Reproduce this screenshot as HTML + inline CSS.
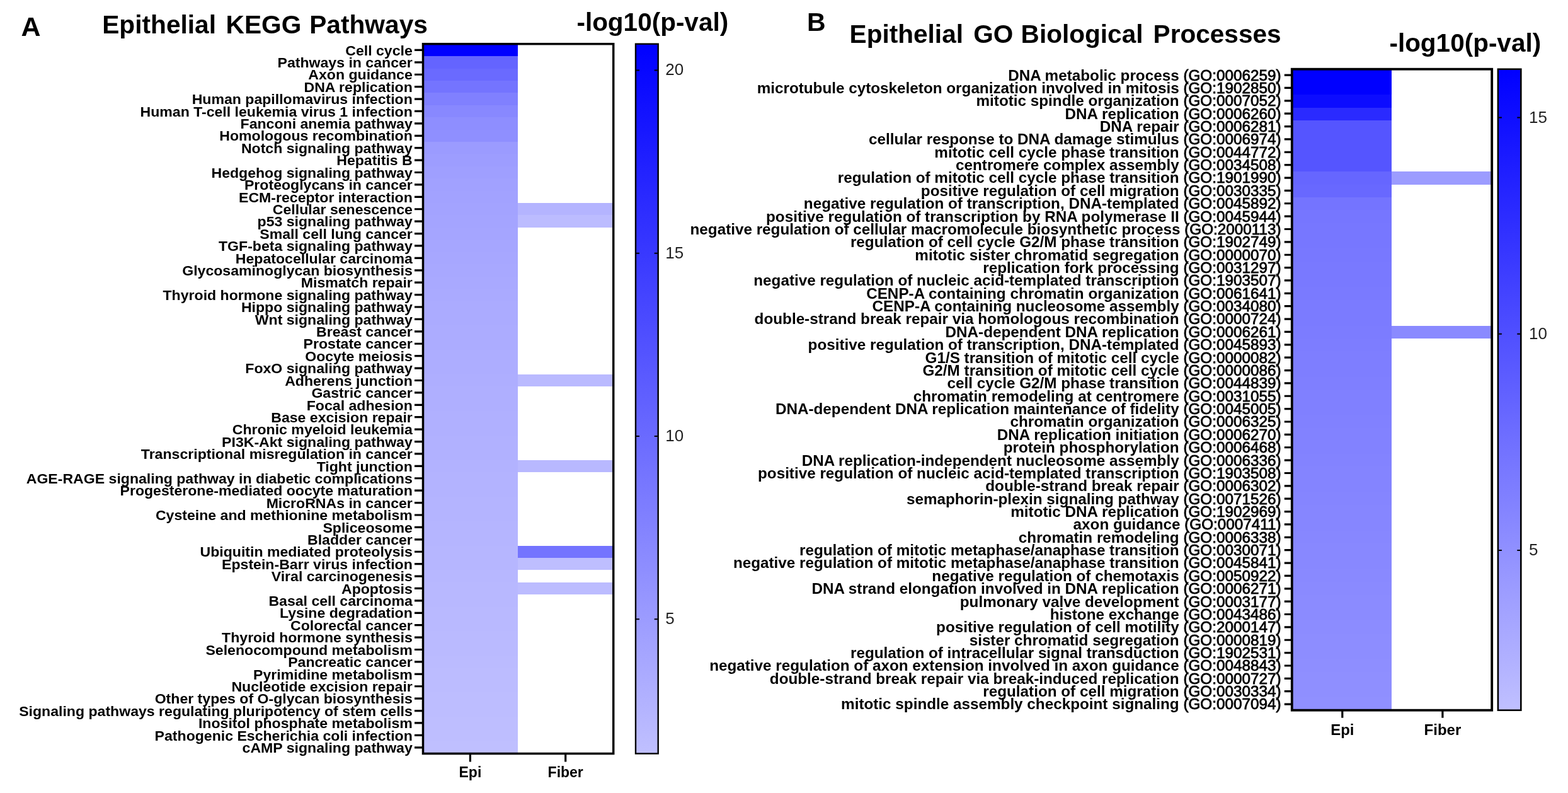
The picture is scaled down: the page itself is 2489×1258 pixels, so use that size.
<!DOCTYPE html><html><head><meta charset="utf-8"><style>html,body{margin:0;padding:0;background:#fff;}svg{display:block}text{font-family:"Liberation Sans",Arial,sans-serif;}</style></head><body>
<svg width="2489" height="1258" viewBox="0 0 2489 1258">
<rect width="2489" height="1258" fill="#fff"/>
<defs><linearGradient id="gA" x1="0" y1="1" x2="0" y2="0"><stop offset="0" stop-color="rgb(192,192,255)"/><stop offset="1" stop-color="rgb(0,0,255)"/></linearGradient></defs>
<rect x="671.50" y="69.70" width="150.20" height="19.71" fill="rgb(0,0,255)" shape-rendering="crispEdges"/>
<rect x="671.50" y="89.11" width="150.20" height="19.71" fill="rgb(100,100,255)" shape-rendering="crispEdges"/>
<rect x="671.50" y="108.52" width="150.20" height="19.71" fill="rgb(106,106,255)" shape-rendering="crispEdges"/>
<rect x="671.50" y="127.93" width="150.20" height="19.71" fill="rgb(116,116,255)" shape-rendering="crispEdges"/>
<rect x="671.50" y="147.34" width="150.20" height="19.71" fill="rgb(128,128,255)" shape-rendering="crispEdges"/>
<rect x="671.50" y="166.75" width="150.20" height="19.71" fill="rgb(136,136,255)" shape-rendering="crispEdges"/>
<rect x="671.50" y="186.16" width="150.20" height="19.71" fill="rgb(142,142,255)" shape-rendering="crispEdges"/>
<rect x="671.50" y="205.57" width="150.20" height="19.71" fill="rgb(143,143,255)" shape-rendering="crispEdges"/>
<rect x="671.50" y="224.98" width="150.20" height="19.71" fill="rgb(155,155,255)" shape-rendering="crispEdges"/>
<rect x="671.50" y="244.39" width="150.20" height="19.71" fill="rgb(157,157,255)" shape-rendering="crispEdges"/>
<rect x="671.50" y="263.80" width="150.20" height="19.71" fill="rgb(159,159,255)" shape-rendering="crispEdges"/>
<rect x="671.50" y="283.21" width="150.20" height="19.71" fill="rgb(161,161,255)" shape-rendering="crispEdges"/>
<rect x="671.50" y="302.62" width="150.20" height="19.71" fill="rgb(162,162,255)" shape-rendering="crispEdges"/>
<rect x="671.50" y="322.03" width="150.20" height="19.71" fill="rgb(163,163,255)" shape-rendering="crispEdges"/>
<rect x="671.50" y="341.44" width="150.20" height="19.71" fill="rgb(164,164,255)" shape-rendering="crispEdges"/>
<rect x="671.50" y="360.86" width="150.20" height="19.71" fill="rgb(165,165,255)" shape-rendering="crispEdges"/>
<rect x="671.50" y="380.27" width="150.20" height="19.71" fill="rgb(166,166,255)" shape-rendering="crispEdges"/>
<rect x="671.50" y="399.68" width="150.20" height="19.71" fill="rgb(167,167,255)" shape-rendering="crispEdges"/>
<rect x="671.50" y="419.09" width="150.20" height="19.71" fill="rgb(168,168,255)" shape-rendering="crispEdges"/>
<rect x="671.50" y="438.50" width="150.20" height="19.71" fill="rgb(169,169,255)" shape-rendering="crispEdges"/>
<rect x="671.50" y="457.91" width="150.20" height="19.71" fill="rgb(170,170,255)" shape-rendering="crispEdges"/>
<rect x="671.50" y="477.32" width="150.20" height="19.71" fill="rgb(171,171,255)" shape-rendering="crispEdges"/>
<rect x="671.50" y="496.73" width="150.20" height="19.71" fill="rgb(171,171,255)" shape-rendering="crispEdges"/>
<rect x="671.50" y="516.14" width="150.20" height="19.71" fill="rgb(172,172,255)" shape-rendering="crispEdges"/>
<rect x="671.50" y="535.55" width="150.20" height="19.71" fill="rgb(172,172,255)" shape-rendering="crispEdges"/>
<rect x="671.50" y="554.96" width="150.20" height="19.71" fill="rgb(173,173,255)" shape-rendering="crispEdges"/>
<rect x="671.50" y="574.37" width="150.20" height="19.71" fill="rgb(173,173,255)" shape-rendering="crispEdges"/>
<rect x="671.50" y="593.78" width="150.20" height="19.71" fill="rgb(174,174,255)" shape-rendering="crispEdges"/>
<rect x="671.50" y="613.19" width="150.20" height="19.71" fill="rgb(175,175,255)" shape-rendering="crispEdges"/>
<rect x="671.50" y="632.60" width="150.20" height="19.71" fill="rgb(175,175,255)" shape-rendering="crispEdges"/>
<rect x="671.50" y="652.01" width="150.20" height="19.71" fill="rgb(176,176,255)" shape-rendering="crispEdges"/>
<rect x="671.50" y="671.42" width="150.20" height="19.71" fill="rgb(176,176,255)" shape-rendering="crispEdges"/>
<rect x="671.50" y="690.83" width="150.20" height="19.71" fill="rgb(177,177,255)" shape-rendering="crispEdges"/>
<rect x="671.50" y="710.24" width="150.20" height="19.71" fill="rgb(177,177,255)" shape-rendering="crispEdges"/>
<rect x="671.50" y="729.65" width="150.20" height="19.71" fill="rgb(178,178,255)" shape-rendering="crispEdges"/>
<rect x="671.50" y="749.06" width="150.20" height="19.71" fill="rgb(179,179,255)" shape-rendering="crispEdges"/>
<rect x="671.50" y="768.47" width="150.20" height="19.71" fill="rgb(179,179,255)" shape-rendering="crispEdges"/>
<rect x="671.50" y="787.88" width="150.20" height="19.71" fill="rgb(180,180,255)" shape-rendering="crispEdges"/>
<rect x="671.50" y="807.29" width="150.20" height="19.71" fill="rgb(180,180,255)" shape-rendering="crispEdges"/>
<rect x="671.50" y="826.70" width="150.20" height="19.71" fill="rgb(181,181,255)" shape-rendering="crispEdges"/>
<rect x="671.50" y="846.11" width="150.20" height="19.71" fill="rgb(181,181,255)" shape-rendering="crispEdges"/>
<rect x="671.50" y="865.52" width="150.20" height="19.71" fill="rgb(182,182,255)" shape-rendering="crispEdges"/>
<rect x="671.50" y="884.93" width="150.20" height="19.71" fill="rgb(182,182,255)" shape-rendering="crispEdges"/>
<rect x="671.50" y="904.34" width="150.20" height="19.71" fill="rgb(183,183,255)" shape-rendering="crispEdges"/>
<rect x="671.50" y="923.76" width="150.20" height="19.71" fill="rgb(184,184,255)" shape-rendering="crispEdges"/>
<rect x="671.50" y="943.17" width="150.20" height="19.71" fill="rgb(184,184,255)" shape-rendering="crispEdges"/>
<rect x="671.50" y="962.58" width="150.20" height="19.71" fill="rgb(185,185,255)" shape-rendering="crispEdges"/>
<rect x="671.50" y="981.99" width="150.20" height="19.71" fill="rgb(185,185,255)" shape-rendering="crispEdges"/>
<rect x="671.50" y="1001.40" width="150.20" height="19.71" fill="rgb(186,186,255)" shape-rendering="crispEdges"/>
<rect x="671.50" y="1020.81" width="150.20" height="19.71" fill="rgb(186,186,255)" shape-rendering="crispEdges"/>
<rect x="671.50" y="1040.22" width="150.20" height="19.71" fill="rgb(187,187,255)" shape-rendering="crispEdges"/>
<rect x="671.50" y="1059.63" width="150.20" height="19.71" fill="rgb(188,188,255)" shape-rendering="crispEdges"/>
<rect x="671.50" y="1079.04" width="150.20" height="19.71" fill="rgb(188,188,255)" shape-rendering="crispEdges"/>
<rect x="671.50" y="1098.45" width="150.20" height="19.71" fill="rgb(189,189,255)" shape-rendering="crispEdges"/>
<rect x="671.50" y="1117.86" width="150.20" height="19.71" fill="rgb(189,189,255)" shape-rendering="crispEdges"/>
<rect x="671.50" y="1137.27" width="150.20" height="19.71" fill="rgb(190,190,255)" shape-rendering="crispEdges"/>
<rect x="671.50" y="1156.68" width="150.20" height="19.71" fill="rgb(190,190,255)" shape-rendering="crispEdges"/>
<rect x="671.50" y="1176.09" width="150.20" height="19.71" fill="rgb(191,191,255)" shape-rendering="crispEdges"/>
<rect x="821.70" y="322.03" width="152.00" height="19.41" fill="rgb(180,180,255)" shape-rendering="crispEdges"/>
<rect x="821.70" y="341.44" width="152.00" height="19.41" fill="rgb(188,188,255)" shape-rendering="crispEdges"/>
<rect x="821.70" y="593.78" width="152.00" height="19.41" fill="rgb(186,186,255)" shape-rendering="crispEdges"/>
<rect x="821.70" y="729.65" width="152.00" height="19.41" fill="rgb(184,184,255)" shape-rendering="crispEdges"/>
<rect x="821.70" y="865.52" width="152.00" height="19.41" fill="rgb(116,116,255)" shape-rendering="crispEdges"/>
<rect x="821.70" y="884.93" width="152.00" height="19.41" fill="rgb(190,190,255)" shape-rendering="crispEdges"/>
<rect x="821.70" y="923.76" width="152.00" height="19.41" fill="rgb(188,188,255)" shape-rendering="crispEdges"/>
<rect x="671.50" y="69.70" width="302.20" height="1125.80" fill="none" stroke="#000" stroke-width="3.50"/>
<path d="M658.00 79.41H671.50M658.00 98.82H671.50M658.00 118.23H671.50M658.00 137.64H671.50M658.00 157.05H671.50M658.00 176.46H671.50M658.00 195.87H671.50M658.00 215.28H671.50M658.00 234.69H671.50M658.00 254.10H671.50M658.00 273.51H671.50M658.00 292.92H671.50M658.00 312.33H671.50M658.00 331.74H671.50M658.00 351.15H671.50M658.00 370.56H671.50M658.00 389.97H671.50M658.00 409.38H671.50M658.00 428.79H671.50M658.00 448.20H671.50M658.00 467.61H671.50M658.00 487.02H671.50M658.00 506.43H671.50M658.00 525.84H671.50M658.00 545.25H671.50M658.00 564.66H671.50M658.00 584.07H671.50M658.00 603.48H671.50M658.00 622.89H671.50M658.00 642.31H671.50M658.00 661.72H671.50M658.00 681.13H671.50M658.00 700.54H671.50M658.00 719.95H671.50M658.00 739.36H671.50M658.00 758.77H671.50M658.00 778.18H671.50M658.00 797.59H671.50M658.00 817.00H671.50M658.00 836.41H671.50M658.00 855.82H671.50M658.00 875.23H671.50M658.00 894.64H671.50M658.00 914.05H671.50M658.00 933.46H671.50M658.00 952.87H671.50M658.00 972.28H671.50M658.00 991.69H671.50M658.00 1011.10H671.50M658.00 1030.51H671.50M658.00 1049.92H671.50M658.00 1069.33H671.50M658.00 1088.74H671.50M658.00 1108.15H671.50M658.00 1127.56H671.50M658.00 1146.97H671.50M658.00 1166.38H671.50M658.00 1185.79H671.50" stroke="#000" stroke-width="3.20" fill="none"/>
<g font-weight="bold" font-size="23.10" text-anchor="end" fill="#000"><text transform="translate(654.80 87.61) scale(1 0.960)">Cell cycle</text><text transform="translate(654.80 107.02) scale(1 0.960)">Pathways in cancer</text><text transform="translate(654.80 126.43) scale(1 0.960)">Axon guidance</text><text transform="translate(654.80 145.84) scale(1 0.960)">DNA replication</text><text transform="translate(654.80 165.25) scale(1 0.960)">Human papillomavirus infection</text><text transform="translate(654.80 184.66) scale(1 0.960)">Human T-cell leukemia virus 1 infection</text><text transform="translate(654.80 204.07) scale(1 0.960)">Fanconi anemia pathway</text><text transform="translate(654.80 223.48) scale(1 0.960)">Homologous recombination</text><text transform="translate(654.80 242.89) scale(1 0.960)">Notch signaling pathway</text><text transform="translate(654.80 262.30) scale(1 0.960)">Hepatitis B</text><text transform="translate(654.80 281.71) scale(1 0.960)">Hedgehog signaling pathway</text><text transform="translate(654.80 301.12) scale(1 0.960)">Proteoglycans in cancer</text><text transform="translate(654.80 320.53) scale(1 0.960)">ECM-receptor interaction</text><text transform="translate(654.80 339.94) scale(1 0.960)">Cellular senescence</text><text transform="translate(654.80 359.35) scale(1 0.960)">p53 signaling pathway</text><text transform="translate(654.80 378.76) scale(1 0.960)">Small cell lung cancer</text><text transform="translate(654.80 398.17) scale(1 0.960)">TGF-beta signaling pathway</text><text transform="translate(654.80 417.58) scale(1 0.960)">Hepatocellular carcinoma</text><text transform="translate(654.80 436.99) scale(1 0.960)">Glycosaminoglycan biosynthesis</text><text transform="translate(654.80 456.40) scale(1 0.960)">Mismatch repair</text><text transform="translate(654.80 475.81) scale(1 0.960)">Thyroid hormone signaling pathway</text><text transform="translate(654.80 495.22) scale(1 0.960)">Hippo signaling pathway</text><text transform="translate(654.80 514.63) scale(1 0.960)">Wnt signaling pathway</text><text transform="translate(654.80 534.04) scale(1 0.960)">Breast cancer</text><text transform="translate(654.80 553.45) scale(1 0.960)">Prostate cancer</text><text transform="translate(654.80 572.86) scale(1 0.960)">Oocyte meiosis</text><text transform="translate(654.80 592.27) scale(1 0.960)">FoxO signaling pathway</text><text transform="translate(654.80 611.68) scale(1 0.960)">Adherens junction</text><text transform="translate(654.80 631.09) scale(1 0.960)">Gastric cancer</text><text transform="translate(654.80 650.51) scale(1 0.960)">Focal adhesion</text><text transform="translate(654.80 669.92) scale(1 0.960)">Base excision repair</text><text transform="translate(654.80 689.33) scale(1 0.960)">Chronic myeloid leukemia</text><text transform="translate(654.80 708.74) scale(1 0.960)">PI3K-Akt signaling pathway</text><text transform="translate(654.80 728.15) scale(1 0.960)">Transcriptional misregulation in cancer</text><text transform="translate(654.80 747.56) scale(1 0.960)">Tight junction</text><text transform="translate(654.80 766.97) scale(1 0.960)">AGE-RAGE signaling pathway in diabetic complications</text><text transform="translate(654.80 786.38) scale(1 0.960)">Progesterone-mediated oocyte maturation</text><text transform="translate(654.80 805.79) scale(1 0.960)">MicroRNAs in cancer</text><text transform="translate(654.80 825.20) scale(1 0.960)">Cysteine and methionine metabolism</text><text transform="translate(654.80 844.61) scale(1 0.960)">Spliceosome</text><text transform="translate(654.80 864.02) scale(1 0.960)">Bladder cancer</text><text transform="translate(654.80 883.43) scale(1 0.960)">Ubiquitin mediated proteolysis</text><text transform="translate(654.80 902.84) scale(1 0.960)">Epstein-Barr virus infection</text><text transform="translate(654.80 922.25) scale(1 0.960)">Viral carcinogenesis</text><text transform="translate(654.80 941.66) scale(1 0.960)">Apoptosis</text><text transform="translate(654.80 961.07) scale(1 0.960)">Basal cell carcinoma</text><text transform="translate(654.80 980.48) scale(1 0.960)">Lysine degradation</text><text transform="translate(654.80 999.89) scale(1 0.960)">Colorectal cancer</text><text transform="translate(654.80 1019.30) scale(1 0.960)">Thyroid hormone synthesis</text><text transform="translate(654.80 1038.71) scale(1 0.960)">Selenocompound metabolism</text><text transform="translate(654.80 1058.12) scale(1 0.960)">Pancreatic cancer</text><text transform="translate(654.80 1077.53) scale(1 0.960)">Pyrimidine metabolism</text><text transform="translate(654.80 1096.94) scale(1 0.960)">Nucleotide excision repair</text><text transform="translate(654.80 1116.35) scale(1 0.960)">Other types of O-glycan biosynthesis</text><text transform="translate(654.80 1135.76) scale(1 0.960)">Signaling pathways regulating pluripotency of stem cells</text><text transform="translate(654.80 1155.17) scale(1 0.960)">Inositol phosphate metabolism</text><text transform="translate(654.80 1174.58) scale(1 0.960)">Pathogenic Escherichia coli infection</text><text transform="translate(654.80 1193.99) scale(1 0.960)">cAMP signaling pathway</text></g>
<path d="M746.40 1195.50V1208.50M897.70 1195.50V1208.50" stroke="#000" stroke-width="3.20" fill="none"/>
<g font-weight="bold" font-size="23.00" text-anchor="middle" fill="#000">
<text x="746.40" y="1232.50">Epi</text><text x="897.70" y="1232.50">Fiber</text></g>
<rect x="1009.00" y="69.70" width="35.70" height="1125.80" fill="url(#gA)" stroke="#000" stroke-width="2.40"/>
<path d="M1009.00 111.40h6.00M1044.70 111.40h-6.00M1009.00 401.70h6.00M1044.70 401.70h-6.00M1009.00 692.00h6.00M1044.70 692.00h-6.00M1009.00 982.30h6.00M1044.70 982.30h-6.00" stroke="#000" stroke-width="2" fill="none"/>
<g font-size="26.00" fill="#222">
<text x="1056.30" y="119.20">20</text>
<text x="1056.30" y="409.50">15</text>
<text x="1056.30" y="699.80">10</text>
<text x="1056.30" y="990.10">5</text>
</g>
<rect x="2050.80" y="109.70" width="158.50" height="20.64" fill="rgb(0,0,255)" shape-rendering="crispEdges"/>
<rect x="2050.80" y="130.04" width="158.50" height="20.64" fill="rgb(0,0,255)" shape-rendering="crispEdges"/>
<rect x="2050.80" y="150.38" width="158.50" height="20.64" fill="rgb(12,12,255)" shape-rendering="crispEdges"/>
<rect x="2050.80" y="170.72" width="158.50" height="20.64" fill="rgb(42,42,255)" shape-rendering="crispEdges"/>
<rect x="2050.80" y="191.06" width="158.50" height="20.64" fill="rgb(85,85,255)" shape-rendering="crispEdges"/>
<rect x="2050.80" y="211.40" width="158.50" height="20.64" fill="rgb(85,85,255)" shape-rendering="crispEdges"/>
<rect x="2050.80" y="231.74" width="158.50" height="20.64" fill="rgb(85,85,255)" shape-rendering="crispEdges"/>
<rect x="2050.80" y="252.08" width="158.50" height="20.64" fill="rgb(85,85,255)" shape-rendering="crispEdges"/>
<rect x="2050.80" y="272.42" width="158.50" height="20.64" fill="rgb(102,102,255)" shape-rendering="crispEdges"/>
<rect x="2050.80" y="292.76" width="158.50" height="20.64" fill="rgb(104,104,255)" shape-rendering="crispEdges"/>
<rect x="2050.80" y="313.10" width="158.50" height="20.64" fill="rgb(116,116,255)" shape-rendering="crispEdges"/>
<rect x="2050.80" y="333.44" width="158.50" height="20.64" fill="rgb(118,118,255)" shape-rendering="crispEdges"/>
<rect x="2050.80" y="353.78" width="158.50" height="20.64" fill="rgb(119,119,255)" shape-rendering="crispEdges"/>
<rect x="2050.80" y="374.12" width="158.50" height="20.64" fill="rgb(119,119,255)" shape-rendering="crispEdges"/>
<rect x="2050.80" y="394.46" width="158.50" height="20.64" fill="rgb(120,120,255)" shape-rendering="crispEdges"/>
<rect x="2050.80" y="414.80" width="158.50" height="20.64" fill="rgb(121,121,255)" shape-rendering="crispEdges"/>
<rect x="2050.80" y="435.14" width="158.50" height="20.64" fill="rgb(121,121,255)" shape-rendering="crispEdges"/>
<rect x="2050.80" y="455.48" width="158.50" height="20.64" fill="rgb(122,122,255)" shape-rendering="crispEdges"/>
<rect x="2050.80" y="475.82" width="158.50" height="20.64" fill="rgb(123,123,255)" shape-rendering="crispEdges"/>
<rect x="2050.80" y="496.16" width="158.50" height="20.64" fill="rgb(123,123,255)" shape-rendering="crispEdges"/>
<rect x="2050.80" y="516.50" width="158.50" height="20.64" fill="rgb(124,124,255)" shape-rendering="crispEdges"/>
<rect x="2050.80" y="536.84" width="158.50" height="20.64" fill="rgb(125,125,255)" shape-rendering="crispEdges"/>
<rect x="2050.80" y="557.18" width="158.50" height="20.64" fill="rgb(126,126,255)" shape-rendering="crispEdges"/>
<rect x="2050.80" y="577.52" width="158.50" height="20.64" fill="rgb(126,126,255)" shape-rendering="crispEdges"/>
<rect x="2050.80" y="597.86" width="158.50" height="20.64" fill="rgb(127,127,255)" shape-rendering="crispEdges"/>
<rect x="2050.80" y="618.20" width="158.50" height="20.64" fill="rgb(128,128,255)" shape-rendering="crispEdges"/>
<rect x="2050.80" y="638.54" width="158.50" height="20.64" fill="rgb(128,128,255)" shape-rendering="crispEdges"/>
<rect x="2050.80" y="658.88" width="158.50" height="20.64" fill="rgb(129,129,255)" shape-rendering="crispEdges"/>
<rect x="2050.80" y="679.22" width="158.50" height="20.64" fill="rgb(130,130,255)" shape-rendering="crispEdges"/>
<rect x="2050.80" y="699.56" width="158.50" height="20.64" fill="rgb(130,130,255)" shape-rendering="crispEdges"/>
<rect x="2050.80" y="719.90" width="158.50" height="20.64" fill="rgb(131,131,255)" shape-rendering="crispEdges"/>
<rect x="2050.80" y="740.24" width="158.50" height="20.64" fill="rgb(132,132,255)" shape-rendering="crispEdges"/>
<rect x="2050.80" y="760.58" width="158.50" height="20.64" fill="rgb(132,132,255)" shape-rendering="crispEdges"/>
<rect x="2050.80" y="780.92" width="158.50" height="20.64" fill="rgb(133,133,255)" shape-rendering="crispEdges"/>
<rect x="2050.80" y="801.26" width="158.50" height="20.64" fill="rgb(134,134,255)" shape-rendering="crispEdges"/>
<rect x="2050.80" y="821.60" width="158.50" height="20.64" fill="rgb(134,134,255)" shape-rendering="crispEdges"/>
<rect x="2050.80" y="841.94" width="158.50" height="20.64" fill="rgb(135,135,255)" shape-rendering="crispEdges"/>
<rect x="2050.80" y="862.28" width="158.50" height="20.64" fill="rgb(136,136,255)" shape-rendering="crispEdges"/>
<rect x="2050.80" y="882.62" width="158.50" height="20.64" fill="rgb(136,136,255)" shape-rendering="crispEdges"/>
<rect x="2050.80" y="902.96" width="158.50" height="20.64" fill="rgb(137,137,255)" shape-rendering="crispEdges"/>
<rect x="2050.80" y="923.30" width="158.50" height="20.64" fill="rgb(138,138,255)" shape-rendering="crispEdges"/>
<rect x="2050.80" y="943.64" width="158.50" height="20.64" fill="rgb(139,139,255)" shape-rendering="crispEdges"/>
<rect x="2050.80" y="963.98" width="158.50" height="20.64" fill="rgb(139,139,255)" shape-rendering="crispEdges"/>
<rect x="2050.80" y="984.32" width="158.50" height="20.64" fill="rgb(140,140,255)" shape-rendering="crispEdges"/>
<rect x="2050.80" y="1004.66" width="158.50" height="20.64" fill="rgb(141,141,255)" shape-rendering="crispEdges"/>
<rect x="2050.80" y="1025.00" width="158.50" height="20.64" fill="rgb(141,141,255)" shape-rendering="crispEdges"/>
<rect x="2050.80" y="1045.34" width="158.50" height="20.64" fill="rgb(142,142,255)" shape-rendering="crispEdges"/>
<rect x="2050.80" y="1065.68" width="158.50" height="20.64" fill="rgb(143,143,255)" shape-rendering="crispEdges"/>
<rect x="2050.80" y="1086.02" width="158.50" height="20.64" fill="rgb(143,143,255)" shape-rendering="crispEdges"/>
<rect x="2050.80" y="1106.36" width="158.50" height="20.64" fill="rgb(144,144,255)" shape-rendering="crispEdges"/>
<rect x="2209.30" y="272.42" width="158.90" height="20.34" fill="rgb(156,156,255)" shape-rendering="crispEdges"/>
<rect x="2209.30" y="516.50" width="158.90" height="20.34" fill="rgb(138,138,255)" shape-rendering="crispEdges"/>
<rect x="2050.80" y="109.70" width="317.40" height="1017.00" fill="none" stroke="#000" stroke-width="3.80"/>
<path d="M2038.80 119.10H2050.80M2038.80 139.47H2050.80M2038.80 159.83H2050.80M2038.80 180.20H2050.80M2038.80 200.57H2050.80M2038.80 220.94H2050.80M2038.80 241.30H2050.80M2038.80 261.67H2050.80M2038.80 282.04H2050.80M2038.80 302.40H2050.80M2038.80 322.77H2050.80M2038.80 343.14H2050.80M2038.80 363.50H2050.80M2038.80 383.87H2050.80M2038.80 404.24H2050.80M2038.80 424.61H2050.80M2038.80 444.97H2050.80M2038.80 465.34H2050.80M2038.80 485.71H2050.80M2038.80 506.07H2050.80M2038.80 526.44H2050.80M2038.80 546.81H2050.80M2038.80 567.17H2050.80M2038.80 587.54H2050.80M2038.80 607.91H2050.80M2038.80 628.27H2050.80M2038.80 648.64H2050.80M2038.80 669.01H2050.80M2038.80 689.38H2050.80M2038.80 709.74H2050.80M2038.80 730.11H2050.80M2038.80 750.48H2050.80M2038.80 770.84H2050.80M2038.80 791.21H2050.80M2038.80 811.58H2050.80M2038.80 831.95H2050.80M2038.80 852.31H2050.80M2038.80 872.68H2050.80M2038.80 893.05H2050.80M2038.80 913.41H2050.80M2038.80 933.78H2050.80M2038.80 954.15H2050.80M2038.80 974.51H2050.80M2038.80 994.88H2050.80M2038.80 1015.25H2050.80M2038.80 1035.62H2050.80M2038.80 1055.98H2050.80M2038.80 1076.35H2050.80M2038.80 1096.72H2050.80M2038.80 1117.08H2050.80" stroke="#000" stroke-width="3.20" fill="none"/>
<g font-weight="bold" font-size="24.28" text-anchor="end" fill="#000"><text transform="translate(2033.50 127.50) scale(1 0.960)">DNA metabolic process <tspan font-weight="normal" stroke="#000" stroke-width="0.85">(GO:0006259)</tspan></text><text transform="translate(2033.50 147.87) scale(1 0.960)">microtubule cytoskeleton organization involved in mitosis <tspan font-weight="normal" stroke="#000" stroke-width="0.85">(GO:1902850)</tspan></text><text transform="translate(2033.50 168.23) scale(1 0.960)">mitotic spindle organization <tspan font-weight="normal" stroke="#000" stroke-width="0.85">(GO:0007052)</tspan></text><text transform="translate(2033.50 188.60) scale(1 0.960)">DNA replication <tspan font-weight="normal" stroke="#000" stroke-width="0.85">(GO:0006260)</tspan></text><text transform="translate(2033.50 208.97) scale(1 0.960)">DNA repair <tspan font-weight="normal" stroke="#000" stroke-width="0.85">(GO:0006281)</tspan></text><text transform="translate(2033.50 229.34) scale(1 0.960)">cellular response to DNA damage stimulus <tspan font-weight="normal" stroke="#000" stroke-width="0.85">(GO:0006974)</tspan></text><text transform="translate(2033.50 249.70) scale(1 0.960)">mitotic cell cycle phase transition <tspan font-weight="normal" stroke="#000" stroke-width="0.85">(GO:0044772)</tspan></text><text transform="translate(2033.50 270.07) scale(1 0.960)">centromere complex assembly <tspan font-weight="normal" stroke="#000" stroke-width="0.85">(GO:0034508)</tspan></text><text transform="translate(2033.50 290.44) scale(1 0.960)">regulation of mitotic cell cycle phase transition <tspan font-weight="normal" stroke="#000" stroke-width="0.85">(GO:1901990)</tspan></text><text transform="translate(2033.50 310.80) scale(1 0.960)">positive regulation of cell migration <tspan font-weight="normal" stroke="#000" stroke-width="0.85">(GO:0030335)</tspan></text><text transform="translate(2033.50 331.17) scale(1 0.960)">negative regulation of transcription, DNA-templated <tspan font-weight="normal" stroke="#000" stroke-width="0.85">(GO:0045892)</tspan></text><text transform="translate(2033.50 351.54) scale(1 0.960)">positive regulation of transcription by RNA polymerase II <tspan font-weight="normal" stroke="#000" stroke-width="0.85">(GO:0045944)</tspan></text><text transform="translate(2033.50 371.90) scale(1 0.960)">negative regulation of cellular macromolecule biosynthetic process <tspan font-weight="normal" stroke="#000" stroke-width="0.85">(GO:2000113)</tspan></text><text transform="translate(2033.50 392.27) scale(1 0.960)">regulation of cell cycle G2/M phase transition <tspan font-weight="normal" stroke="#000" stroke-width="0.85">(GO:1902749)</tspan></text><text transform="translate(2033.50 412.64) scale(1 0.960)">mitotic sister chromatid segregation <tspan font-weight="normal" stroke="#000" stroke-width="0.85">(GO:0000070)</tspan></text><text transform="translate(2033.50 433.00) scale(1 0.960)">replication fork processing <tspan font-weight="normal" stroke="#000" stroke-width="0.85">(GO:0031297)</tspan></text><text transform="translate(2033.50 453.37) scale(1 0.960)">negative regulation of nucleic acid-templated transcription <tspan font-weight="normal" stroke="#000" stroke-width="0.85">(GO:1903507)</tspan></text><text transform="translate(2033.50 473.74) scale(1 0.960)">CENP-A containing chromatin organization <tspan font-weight="normal" stroke="#000" stroke-width="0.85">(GO:0061641)</tspan></text><text transform="translate(2033.50 494.11) scale(1 0.960)">CENP-A containing nucleosome assembly <tspan font-weight="normal" stroke="#000" stroke-width="0.85">(GO:0034080)</tspan></text><text transform="translate(2033.50 514.47) scale(1 0.960)">double-strand break repair via homologous recombination <tspan font-weight="normal" stroke="#000" stroke-width="0.85">(GO:0000724)</tspan></text><text transform="translate(2033.50 534.84) scale(1 0.960)">DNA-dependent DNA replication <tspan font-weight="normal" stroke="#000" stroke-width="0.85">(GO:0006261)</tspan></text><text transform="translate(2033.50 555.21) scale(1 0.960)">positive regulation of transcription, DNA-templated <tspan font-weight="normal" stroke="#000" stroke-width="0.85">(GO:0045893)</tspan></text><text transform="translate(2033.50 575.57) scale(1 0.960)">G1/S transition of mitotic cell cycle <tspan font-weight="normal" stroke="#000" stroke-width="0.85">(GO:0000082)</tspan></text><text transform="translate(2033.50 595.94) scale(1 0.960)">G2/M transition of mitotic cell cycle <tspan font-weight="normal" stroke="#000" stroke-width="0.85">(GO:0000086)</tspan></text><text transform="translate(2033.50 616.31) scale(1 0.960)">cell cycle G2/M phase transition <tspan font-weight="normal" stroke="#000" stroke-width="0.85">(GO:0044839)</tspan></text><text transform="translate(2033.50 636.67) scale(1 0.960)">chromatin remodeling at centromere <tspan font-weight="normal" stroke="#000" stroke-width="0.85">(GO:0031055)</tspan></text><text transform="translate(2033.50 657.04) scale(1 0.960)">DNA-dependent DNA replication maintenance of fidelity <tspan font-weight="normal" stroke="#000" stroke-width="0.85">(GO:0045005)</tspan></text><text transform="translate(2033.50 677.41) scale(1 0.960)">chromatin organization <tspan font-weight="normal" stroke="#000" stroke-width="0.85">(GO:0006325)</tspan></text><text transform="translate(2033.50 697.78) scale(1 0.960)">DNA replication initiation <tspan font-weight="normal" stroke="#000" stroke-width="0.85">(GO:0006270)</tspan></text><text transform="translate(2033.50 718.14) scale(1 0.960)">protein phosphorylation <tspan font-weight="normal" stroke="#000" stroke-width="0.85">(GO:0006468)</tspan></text><text transform="translate(2033.50 738.51) scale(1 0.960)">DNA replication-independent nucleosome assembly <tspan font-weight="normal" stroke="#000" stroke-width="0.85">(GO:0006336)</tspan></text><text transform="translate(2033.50 758.88) scale(1 0.960)">positive regulation of nucleic acid-templated transcription <tspan font-weight="normal" stroke="#000" stroke-width="0.85">(GO:1903508)</tspan></text><text transform="translate(2033.50 779.24) scale(1 0.960)">double-strand break repair <tspan font-weight="normal" stroke="#000" stroke-width="0.85">(GO:0006302)</tspan></text><text transform="translate(2033.50 799.61) scale(1 0.960)">semaphorin-plexin signaling pathway <tspan font-weight="normal" stroke="#000" stroke-width="0.85">(GO:0071526)</tspan></text><text transform="translate(2033.50 819.98) scale(1 0.960)">mitotic DNA replication <tspan font-weight="normal" stroke="#000" stroke-width="0.85">(GO:1902969)</tspan></text><text transform="translate(2033.50 840.35) scale(1 0.960)">axon guidance <tspan font-weight="normal" stroke="#000" stroke-width="0.85">(GO:0007411)</tspan></text><text transform="translate(2033.50 860.71) scale(1 0.960)">chromatin remodeling <tspan font-weight="normal" stroke="#000" stroke-width="0.85">(GO:0006338)</tspan></text><text transform="translate(2033.50 881.08) scale(1 0.960)">regulation of mitotic metaphase/anaphase transition <tspan font-weight="normal" stroke="#000" stroke-width="0.85">(GO:0030071)</tspan></text><text transform="translate(2033.50 901.45) scale(1 0.960)">negative regulation of mitotic metaphase/anaphase transition <tspan font-weight="normal" stroke="#000" stroke-width="0.85">(GO:0045841)</tspan></text><text transform="translate(2033.50 921.81) scale(1 0.960)">negative regulation of chemotaxis <tspan font-weight="normal" stroke="#000" stroke-width="0.85">(GO:0050922)</tspan></text><text transform="translate(2033.50 942.18) scale(1 0.960)">DNA strand elongation involved in DNA replication <tspan font-weight="normal" stroke="#000" stroke-width="0.85">(GO:0006271)</tspan></text><text transform="translate(2033.50 962.55) scale(1 0.960)">pulmonary valve development <tspan font-weight="normal" stroke="#000" stroke-width="0.85">(GO:0003177)</tspan></text><text transform="translate(2033.50 982.91) scale(1 0.960)">histone exchange <tspan font-weight="normal" stroke="#000" stroke-width="0.85">(GO:0043486)</tspan></text><text transform="translate(2033.50 1003.28) scale(1 0.960)">positive regulation of cell motility <tspan font-weight="normal" stroke="#000" stroke-width="0.85">(GO:2000147)</tspan></text><text transform="translate(2033.50 1023.65) scale(1 0.960)">sister chromatid segregation <tspan font-weight="normal" stroke="#000" stroke-width="0.85">(GO:0000819)</tspan></text><text transform="translate(2033.50 1044.02) scale(1 0.960)">regulation of intracellular signal transduction <tspan font-weight="normal" stroke="#000" stroke-width="0.85">(GO:1902531)</tspan></text><text transform="translate(2033.50 1064.38) scale(1 0.960)">negative regulation of axon extension involved in axon guidance <tspan font-weight="normal" stroke="#000" stroke-width="0.85">(GO:0048843)</tspan></text><text transform="translate(2033.50 1084.75) scale(1 0.960)">double-strand break repair via break-induced replication <tspan font-weight="normal" stroke="#000" stroke-width="0.85">(GO:0000727)</tspan></text><text transform="translate(2033.50 1105.12) scale(1 0.960)">regulation of cell migration <tspan font-weight="normal" stroke="#000" stroke-width="0.85">(GO:0030334)</tspan></text><text transform="translate(2033.50 1125.48) scale(1 0.960)">mitotic spindle assembly checkpoint signaling <tspan font-weight="normal" stroke="#000" stroke-width="0.85">(GO:0007094)</tspan></text></g>
<path d="M2130.80 1126.70V1138.70M2289.90 1126.70V1138.70" stroke="#000" stroke-width="3.20" fill="none"/>
<g font-weight="bold" font-size="24.00" text-anchor="middle" fill="#000">
<text x="2130.80" y="1166.00">Epi</text><text x="2289.90" y="1166.00">Fiber</text></g>
<rect x="2377.90" y="109.70" width="36.40" height="1017.00" fill="url(#gA)" stroke="#000" stroke-width="2.60"/>
<path d="M2377.90 186.50h6.00M2414.30 186.50h-6.00M2377.90 529.70h6.00M2414.30 529.70h-6.00M2377.90 872.90h6.00M2414.30 872.90h-6.00" stroke="#000" stroke-width="2" fill="none"/>
<g font-size="26.00" fill="#222">
<text x="2427.00" y="194.90">15</text>
<text x="2427.00" y="538.10">10</text>
<text x="2427.00" y="881.30">5</text>
</g>
<g font-weight="bold" fill="#000">
<text x="33.5" y="56.9" font-size="43">A</text>
<text x="162.20" y="53.30" font-size="40.70">Epithelial</text>
<text x="358.60" y="53.30" font-size="40.70">KEGG</text>
<text x="491.20" y="53.30" font-size="40.70">Pathways</text>
<text x="915.40" y="49.4" font-size="40.5">-log10(p-val)</text>
<text x="1281.00" y="48.6" font-size="41">B</text>
<text x="1348.60" y="67.80" font-size="40.60">Epithelial</text>
<text x="1545.20" y="67.80" font-size="40.60">GO</text>
<text x="1620.60" y="67.80" font-size="40.60">Biological</text>
<text x="1830.60" y="67.80" font-size="40.60">Processes</text>
<text x="2205.40" y="81.6" font-size="40.5">-log10(p-val)</text>
</g>
</svg></body></html>
